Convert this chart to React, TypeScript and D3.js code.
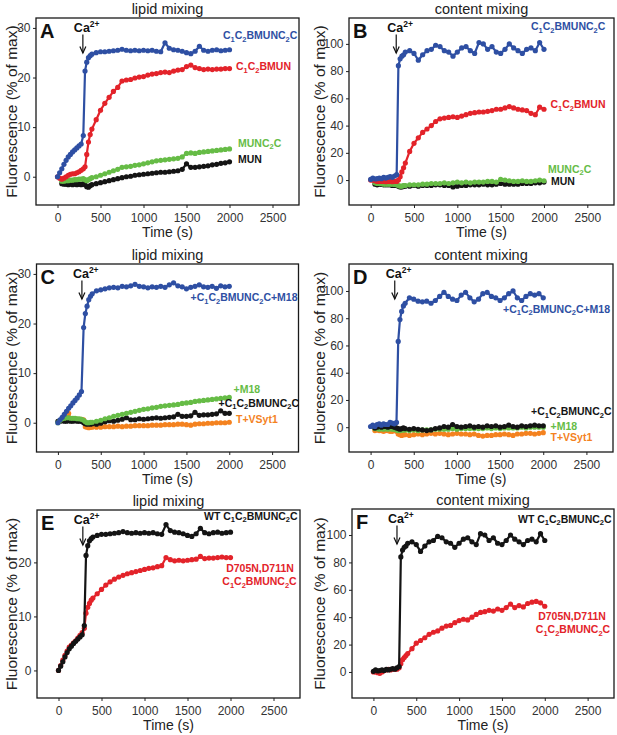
import { useEffect, useRef } from "react"
import * as d3 from "d3"

// sampling times (s), shared by every trace
const TIME = [
  0, 25, 50, 75, 100, 125, 150, 175, 200, 225, 250, 275,
  300, 320, 340, 360, 380, 400,
  450, 500, 550, 600, 650, 700, 750, 800, 850, 900, 950, 1000,
  1050, 1100, 1150, 1200, 1250, 1300, 1350, 1400, 1450, 1500,
  1550, 1600, 1650, 1700, 1750, 1800, 1850, 1900, 1950, 2000,
]

const X_TICKS = [0, 500, 1000, 1500, 2000, 2500]
const LIPID_TICKS = [0, 10, 20, 30]
const LIPID_TICKS_E = [0, 10, 20]
const CONTENT_TICKS = [0, 20, 40, 60, 80, 100]

// lipid mixing (% of max)
const LIPID_WT = [
  0, 0.8, 1.6, 2.5, 3.3, 4.0, 4.5, 5.0, 5.4, 5.8, 6.2, 6.6,
  8.3, 21.3, 23.1, 24.0, 24.4, 24.7,
  25.0, 25.2, 25.2, 25.3, 25.4, 25.5, 25.7, 25.5, 25.4, 25.5, 25.4, 25.5,
  25.4, 25.5, 25.3, 25.2, 27.0, 25.9, 25.6, 25.5, 25.3, 25.0,
  24.8, 25.3, 26.3, 25.5, 25.3, 25.5, 25.6, 25.4, 25.5, 25.6,
]
const LIPID_C1C2BMUN = [
  0, -0.3, -0.5, -0.3, 0, 0.3, 0.5, 0.6, 0.6, 0.8, 1.0, 1.3,
  1.6, 2.0, 4.5, 7.0, 8.5, 9.6,
  11.5, 13.4, 14.8, 16.0, 17.2, 18.0, 19.3, 19.5, 19.6, 19.9, 20.1, 20.2,
  20.5, 20.7, 20.8, 21.0, 21.1, 21.0, 21.3, 21.5, 21.6, 22.2,
  22.5, 22.0, 21.8, 21.6, 21.7, 21.6, 21.7, 21.7, 21.8, 21.8,
]
const LIPID_MUNC2C = [
  null, null, -0.9, -0.9, -0.8, -0.8, -0.7, -0.7, -0.6, -0.6, -0.5, -0.5,
  -0.4, -0.6, -0.8, -0.6, -0.4, -0.2,
  0.0, 0.3, 0.6, 0.9, 1.2, 1.5, 1.9, 2.0, 2.1, 2.3, 2.4, 2.6,
  2.8, 3.0, 3.2, 3.3, 3.4, 3.5, 3.6, 3.7, 4.0, 4.7,
  4.8, 4.7, 4.9, 5.0, 5.1, 5.2, 5.3, 5.4, 5.5, 5.6,
]
const LIPID_MUN = [
  null, null, -1.4, -1.5, -1.5, -1.6, -1.5, -1.6, -1.5, -1.6, -1.5, -1.6,
  -1.4, -1.6, -2.0, -2.1, -1.8, -1.6,
  -1.4, -1.2, -1.0, -0.8, -0.6, -0.4, -0.2, 0.0, 0.1, 0.3, 0.4, 0.5,
  0.6, 0.7, 0.8, 0.9, 0.9, 1.0, 1.1, 1.2, 1.5, 2.6,
  1.9, 1.9, 2.0, 2.1, 2.2, 2.4, 2.5, 2.7, 2.8, 3.0,
]
const LIPID_M18_WT = [
  0, 0.6, 1.1, 1.7, 2.3, 2.9, 3.4, 4.0, 4.5, 5.0, 5.6, 6.3,
  19.2, 22.0, 23.5, 24.8, 25.5, 26.0,
  26.6, 26.8, 27.0, 27.2, 27.3, 27.2, 27.5, 27.4, 27.6, 27.9, 27.5, 27.4,
  27.2, 27.4, 27.3, 27.5, 27.3, 27.8, 28.2, 27.6, 27.4, 27.0,
  27.3, 27.5, 27.8, 27.4, 27.3, 27.5, 27.1, 27.6, 27.4, 27.5,
]
const LIPID_M18 = [
  0, 0.5, 0.8, 0.9, 1.0, 1.0, 0.9, 0.9, 0.9, 0.8, 0.8, 0.7,
  0.5, 0.2, 0.0, 0.0, 0.1, 0.1,
  0.3, 0.5, 0.8, 1.0, 1.3, 1.5, 1.7, 1.9, 2.1, 2.3, 2.5, 2.7,
  2.8, 3.0, 3.1, 3.3, 3.4, 3.5, 3.6, 3.7, 3.9, 4.0,
  4.1, 4.3, 4.4, 4.5, 4.6, 4.7, 4.8, 4.9, 5.0, 5.1,
]
const LIPID_NO_M18 = [
  0.3, 0.3, 0.4, 0.3, 0.3, 0.4, 0.3, 0.3, 0.4, 0.3, 0.3, 0.3,
  0.0, -0.2, -0.3, -0.2, -0.3, -0.2,
  -0.3, -0.1, 0.2, 0.4, 0.3, 0.5, 0.7, 1.0, 0.6, 0.6, 0.8, 0.7,
  0.8, 0.9, 1.0, 0.9, 1.0, 1.1, 1.2, 1.7, 1.3, 1.3,
  1.4, 2.1, 1.5, 1.6, 1.6, 1.7, 1.8, 2.4, 1.9, 1.9,
]
const LIPID_TVSYT1 = [
  null, null, 0.5, 0.6, 0.8, 1.9, 0.8, 0.7, 0.7, 0.7, 0.6, 0.7,
  0.6, -0.8, -0.9, -1.0, -0.9, -0.9,
  -0.9, -0.9, -0.8, -0.8, -0.8, -0.7, -0.8, -0.7, -0.7, -0.6, -0.6, -0.6,
  -0.6, -0.5, -0.5, -0.5, -0.4, -0.4, -0.4, -0.3, -0.3, -0.4,
  -0.5, -0.3, -0.2, -0.2, -0.1, -0.1, 0.0, 0.0, 0.0, 0.1,
]
const LIPID_MUTANT = [
  0, 0.9, 1.9, 2.8, 3.6, 4.3, 4.7, 5.1, 5.5, 6.0, 6.5, 7.0,
  7.8, 10.6, 11.7, 12.4, 13.0, 13.4,
  14.2, 15.0, 15.8, 16.4, 16.9, 17.3, 17.6, 17.9, 18.1, 18.3, 18.5, 18.7,
  18.9, 19.0, 19.2, 19.4, 20.9, 20.5, 20.3, 20.4, 20.3, 20.4,
  20.5, 20.6, 21.1, 20.7, 20.8, 20.8, 20.9, 21.0, 20.9, 20.9,
]

// content mixing (% of max)
const CONTENT_WT = [
  0.5, 1.5, 0.8, 1.0, 1.5, 1.0, 2.0, 1.5, 2.0, 2.5, 2.0, 3.0,
  4.0, 84, 89, 91, 92, 94,
  95, 93, 88, 92, 95, 96, 99, 98, 95, 94, 91, 94,
  97, 98, 95, 93, 101, 100, 96, 98, 94, 93,
  96, 100, 97, 95, 93, 96, 97, 95, 101, 96,
]
const CONTENT_C1C2BMUN = [
  0, 0, -0.5, -1, -1, -1, -1, -1.2, -1, -1, -1.2, -1,
  -1, 0, 2.5, 6, 9, 12.5,
  21, 27, 31, 35, 37.5, 40, 43, 45, 45.5, 46, 46.5, 46,
  47, 48, 49, 49.5, 50, 50, 50.5, 51, 52, 52,
  53, 54, 53, 52, 51.5, 51, 49, 48, 53.5, 52,
]
const CONTENT_MUNC2C = [
  null, null, -2, -2.5, -2.5, -2.5, -3, -3, -3, -3, -3, -3.2,
  -3.5, -4, -4.5, -4.5, -4, -4,
  -3.5, -3.5, -3.5, -3, -3, -2.5, -2.5, -2.5, -2, -2.5, -2, -1.5,
  -2, -1.5, -2, -1.5, -1.5, -1.5, -1, -1, -1.5, 0.5,
  0, -0.5, -1, -1, -0.5, -1, -1, -0.5, 0, -0.5,
]
const CONTENT_MUN = [
  null, null, -3, -3.5, -3, -3, -3.5, -3.5, -3.5, -3.5, -4, -4,
  -4, -4.5, -5, -5, -4.5, -4.5,
  -4.5, -4, -4.5, -4, -4, -4, -3.5, -3.5, -4, -4, -5, -4.5,
  -4, -4, -3.5, -3.5, -3.5, -3, -3.5, -3.5, -3, -2.5,
  -3, -3, -3, -3, -2.5, -2.5, -2.5, -2, -2, -1.5,
]
const CONTENT_M18_WT = [
  0.5, 1.5, 0.5, 2, 2.5, 1.5, 2.5, 2, 2, 3.5, 3, 2.5,
  3.5, 63, 79, 85, 89, 91,
  95, 94, 92.5, 92, 92.5, 91, 93, 96, 99, 96, 94, 93,
  97, 99, 95, 92, 94, 98, 99, 96, 95, 93,
  95, 98, 100, 95, 93, 96, 98, 97, 98, 95,
]
const CONTENT_NO_M18 = [
  null, null, -0.5, 0, 0.5, 0, 0.5, 0.5, 0, 0.5, 0.5, 0,
  -0.5, -1, -1.5, -1, -0.5, -1,
  -1.5, -1, -1.5, -2, -2.5, -2, -1, -0.5, 0.5, 0, 2, 0.5,
  0, 0.5, 1, 0, 0.5, 0, 1, 0.5, 1, 0,
  0.5, 1.5, 0.5, 0, 1, 0.5, 1, 1.5, 1, 1,
]
const CONTENT_M18 = [
  null, null, -1, -1, -1.5, -1, -1.5, -1, -1.5, -1, -1.5, -1.5,
  -2, -2.5, -2.5, -2, -2, -2,
  -2.5, -2, -2.5, -2, -2, -2, -1.5, -1.5, -1.5, -1.5, -1, -1.5,
  -1, -1, -1, -1, -1, -1, -0.5, -1, -0.5, -1,
  -0.5, -0.5, -0.5, -0.5, 0, -0.5, 0, 0, 0, 0,
]
const CONTENT_TVSYT1 = [
  null, null, -2.5, -2, -2.5, -2.5, -3, -2.5, -2.5, -3, -3, -2.5,
  -3, -5, -5.5, -6, -5.5, -5.5,
  -6, -5.5, -5, -5.5, -5, -4.5, -5, -4.5, -5, -5.5, -5, -4.5,
  -5, -5, -5.5, -5, -6, -6.5, -6, -6, -5.5, -5.5,
  -5, -5.5, -6, -5, -5, -4.5, -4.5, -5, -4.5, -4,
]
const CONTENT_MUTANT = [
  0, 0, -0.5, -1, 0, 1, 1.5, 2, 1.5, 2, 2, 2,
  3, 6, 9, 10.5, 12, 13.5,
  17, 21, 23, 25, 27.5, 29, 30, 32, 33.5, 34, 36, 37.5,
  38.5, 38, 40, 42, 43.5, 44, 45, 44.5, 46, 45,
  47, 49.5, 47, 48.5, 47.5, 50, 51, 51.5, 50.5, 48,
]

const BLUE = "#2e4fa3"
const RED = "#e3232a"
const GREEN = "#66bc46"
const BLACK = "#141414"
const ORANGE = "#f4821f"
const FONT = "'Liberation Sans', Arial, Helvetica, sans-serif"
const X_DOMAIN = [-250, 2808]

type Series = { values: (number | null)[]; color: string }
type Label = { text: string; color: string; x: number; y: number; anchor?: string }
type Panel = {
  letter: string
  title: string
  box: [number, number, number, number]
  yDomain: [number, number]
  yTicks: number[]
  ylabX: number
  caT: number
  series: Series[]
  labels: Label[]
}

const PANELS: Panel[] = [
  {
    letter: "A", title: "lipid mixing", box: [36, 18, 299, 205], yDomain: [-5.7, 32], yTicks: LIPID_TICKS, ylabX: 12, caT: 295,
    series: [
      { values: LIPID_MUN, color: BLACK },
      { values: LIPID_MUNC2C, color: GREEN },
      { values: LIPID_C1C2BMUN, color: RED },
      { values: LIPID_WT, color: BLUE },
    ],
    labels: [
      { text: "C_1C_2BMUNC_2C", color: BLUE, x: 187, y: 21 },
      { text: "C_1C_2BMUN", color: RED, x: 200, y: 52 },
      { text: "MUNC_2C", color: GREEN, x: 202, y: 128.5 },
      { text: "MUN", color: BLACK, x: 202, y: 145 },
    ],
  },
  {
    letter: "B", title: "content mixing", box: [349, 18, 614, 205], yDomain: [-18.3, 119], yTicks: CONTENT_TICKS, ylabX: 320, caT: 295,
    series: [
      { values: CONTENT_MUN, color: BLACK },
      { values: CONTENT_MUNC2C, color: GREEN },
      { values: CONTENT_C1C2BMUN, color: RED },
      { values: CONTENT_WT, color: BLUE },
    ],
    labels: [
      { text: "C_1C_2BMUNC_2C", color: BLUE, x: 182, y: 12 },
      { text: "C_1C_2BMUN", color: RED, x: 201.5, y: 90 },
      { text: "MUNC_2C", color: GREEN, x: 199, y: 154.5 },
      { text: "MUN", color: BLACK, x: 202, y: 167 },
    ],
  },
  {
    letter: "C", title: "lipid mixing", box: [36.5, 264, 298.5, 452], yDomain: [-5.9, 32], yTicks: LIPID_TICKS, ylabX: 12, caT: 280,
    series: [
      { values: LIPID_TVSYT1, color: ORANGE },
      { values: LIPID_NO_M18, color: BLACK },
      { values: LIPID_M18, color: GREEN },
      { values: LIPID_M18_WT, color: BLUE },
    ],
    labels: [
      { text: "+C_1C_2BMUNC_2C+M18", color: BLUE, x: 154, y: 37 },
      { text: "+M18", color: GREEN, x: 197, y: 129 },
      { text: "+C_1C_2BMUNC_2C", color: BLACK, x: 182, y: 142.5 },
      { text: "T+VSyt1", color: ORANGE, x: 199.5, y: 158.5 },
    ],
  },
  {
    letter: "D", title: "content mixing", box: [349, 264, 613, 452], yDomain: [-18.2, 119.8], yTicks: CONTENT_TICKS, ylabX: 320, caT: 280,
    series: [
      { values: CONTENT_TVSYT1, color: ORANGE },
      { values: CONTENT_M18, color: GREEN },
      { values: CONTENT_NO_M18, color: BLACK },
      { values: CONTENT_M18_WT, color: BLUE },
    ],
    labels: [
      { text: "+C_1C_2BMUNC_2C+M18", color: BLUE, x: 154, y: 48.5 },
      { text: "+C_1C_2BMUNC_2C", color: BLACK, x: 182, y: 151 },
      { text: "+M18", color: GREEN, x: 201.5, y: 166 },
      { text: "T+VSyt1", color: ORANGE, x: 201.5, y: 177 },
    ],
  },
  {
    letter: "E", title: "lipid mixing", box: [37, 510, 300, 698], yDomain: [-5.1, 29.7], yTicks: LIPID_TICKS_E, ylabX: 12, caT: 283,
    series: [
      { values: LIPID_MUTANT, color: RED },
      { values: LIPID_WT, color: BLACK },
    ],
    labels: [
      { text: "WT C_1C_2BMUNC_2C", color: BLACK, x: 167, y: 9.5 },
      { text: "D705N,D711N", color: RED, x: 223, y: 61.5, anchor: "middle" },
      { text: "C_1C_2BMUNC_2C", color: RED, x: 222.5, y: 75, anchor: "middle" },
    ],
  },
  {
    letter: "F", title: "content mixing", box: [352, 509, 614, 698], yDomain: [-19, 119], yTicks: CONTENT_TICKS, ylabX: 320, caT: 275,
    series: [
      { values: CONTENT_MUTANT, color: RED },
      { values: CONTENT_WT, color: BLACK },
    ],
    labels: [
      { text: "WT C_1C_2BMUNC_2C", color: BLACK, x: 166, y: 13.5 },
      { text: "D705N,D711N", color: RED, x: 220, y: 110.5, anchor: "middle" },
      { text: "C_1C_2BMUNC_2C", color: RED, x: 221, y: 124, anchor: "middle" },
    ],
  },
]

// "C_1" -> C with subscript 1; the shift is undone on the next chunk
function addRichText(
  sel: d3.Selection<SVGTextElement, unknown, null, undefined>,
  text: string,
  subSize: number,
) {
  const parts = text.split(/_(\d)/)
  let shifted = false
  parts.forEach((part, i) => {
    if (!part) return
    if (i % 2 === 1) {
      sel.append("tspan").attr("dy", shifted ? 0 : 2.6).style("font-size", `${subSize}px`).text(part)
      shifted = true
    } else {
      sel.append("tspan").attr("dy", shifted ? -2.6 : 0).text(part)
      shifted = false
    }
  })
}

export default function App() {
  const svgRef = useRef<SVGSVGElement>(null)

  useEffect(() => {
    if (!svgRef.current) return
    const svg = d3.select(svgRef.current)
    svg.selectAll("*").remove()

    PANELS.forEach((p) => {
      const [l, t, r, b] = p.box
      const x = d3.scaleLinear().domain(X_DOMAIN).range([l, r])
      const y = d3.scaleLinear().domain(p.yDomain).range([b, t])
      const g = svg.append("g")

      g.append("text")
        .attr("x", (l + r) / 2)
        .attr("y", t - 9.5)
        .attr("dy", "0.35em")
        .attr("text-anchor", "middle")
        .style("font-family", FONT)
        .style("font-size", "14.5px")
        .style("fill", "#222")
        .text(p.title)

      // axes
      const xa = g
        .append("g")
        .attr("transform", `translate(0,${b})`)
        .call(d3.axisBottom(x).tickValues(X_TICKS).tickSize(3).tickSizeOuter(0).tickPadding(5).tickFormat(d3.format("d")))
      xa.select(".domain").remove()
      const ya = g
        .append("g")
        .attr("transform", `translate(${l},0)`)
        .call(d3.axisLeft(y).tickValues(p.yTicks).tickSize(3).tickSizeOuter(0).tickPadding(2.5).tickFormat(d3.format("d")))
      ya.select(".domain").remove()
      g.selectAll(".tick line").style("stroke", "#222").style("stroke-width", 1)
      g.selectAll(".tick text")
        .style("font-family", FONT)
        .style("font-size", "12px")
        .style("fill", "#333")

      g.append("text")
        .attr("x", (l + r) / 2)
        .attr("y", b + 27)
        .attr("dy", "0.35em")
        .attr("text-anchor", "middle")
        .style("font-family", FONT)
        .style("font-size", "14px")
        .style("fill", "#222")
        .text("Time (s)")

      g.append("text")
        .attr("transform", `translate(${p.ylabX},${(t + b) / 2}) rotate(-90)`)
        .attr("dy", "0.35em")
        .attr("text-anchor", "middle")
        .style("font-family", FONT)
        .style("font-size", "15.5px")
        .style("fill", "#222")
        .text("Fluorescence (% of max)")

      // traces
      p.series.forEach((s) => {
        const pts = TIME.map((tt, i) => [tt, s.values[i]] as [number, number | null]).filter(
          (d) => d[1] !== null,
        ) as [number, number][]
        const line = d3
          .line<[number, number]>()
          .x((d) => x(d[0]))
          .y((d) => y(d[1]))
        g.append("path")
          .attr("d", line(pts))
          .style("fill", "none")
          .style("stroke", s.color)
          .style("stroke-width", 2.2)
          .style("stroke-linejoin", "round")
        g.selectAll(null)
          .data(pts)
          .enter()
          .append("circle")
          .attr("cx", (d) => x(d[0]))
          .attr("cy", (d) => y(d[1]))
          .attr("r", 2.6)
          .style("fill", s.color)
      })

      g.append("rect")
        .attr("x", l)
        .attr("y", t)
        .attr("width", r - l)
        .attr("height", b - t)
        .style("fill", "none")
        .style("stroke", "#1a1a1a")
        .style("stroke-width", 1.3)

      g.append("text")
        .attr("x", l + 4)
        .attr("y", t + 19.5)
        .style("font-family", FONT)
        .style("font-size", "20px")
        .style("font-weight", "bold")
        .style("fill", "#111")
        .text(p.letter)

      // Ca2+ addition marker
      const ax = x(p.caT)
      const ca = g
        .append("text")
        .attr("x", ax - 9)
        .attr("y", t + 13.5)
        .style("font-family", FONT)
        .style("font-size", "12.5px")
        .style("font-weight", "bold")
        .style("fill", "#111")
      ca.append("tspan").text("Ca")
      ca.append("tspan").attr("dy", -4.5).style("font-size", "8.5px").text("2+")
      g.append("line")
        .attr("x1", ax)
        .attr("x2", ax)
        .attr("y1", t + 16.5)
        .attr("y2", t + 35)
        .style("stroke", "#111")
        .style("stroke-width", 1.2)
      g.append("path")
        .attr("d", `M${ax - 3},${t + 28.5} L${ax},${t + 35} L${ax + 3},${t + 28.5}`)
        .style("fill", "none")
        .style("stroke", "#111")
        .style("stroke-width", 1.2)

      p.labels.forEach((lb) => {
        const txt = g
          .append("text")
          .attr("x", l + lb.x)
          .attr("y", t + lb.y)
          .attr("dy", "0.35em")
          .attr("text-anchor", lb.anchor ?? "start")
          .style("font-family", FONT)
          .style("font-size", "10.5px")
          .style("font-weight", "bold")
          .style("fill", lb.color)
        addRichText(txt, lb.text, 7.5)
      })
    })
  }, [])

  return (
    <svg
      ref={svgRef}
      width={617}
      height={735}
      style={{ position: "absolute", left: 0, top: 0, background: "#fff" }}
    />
  )
}
